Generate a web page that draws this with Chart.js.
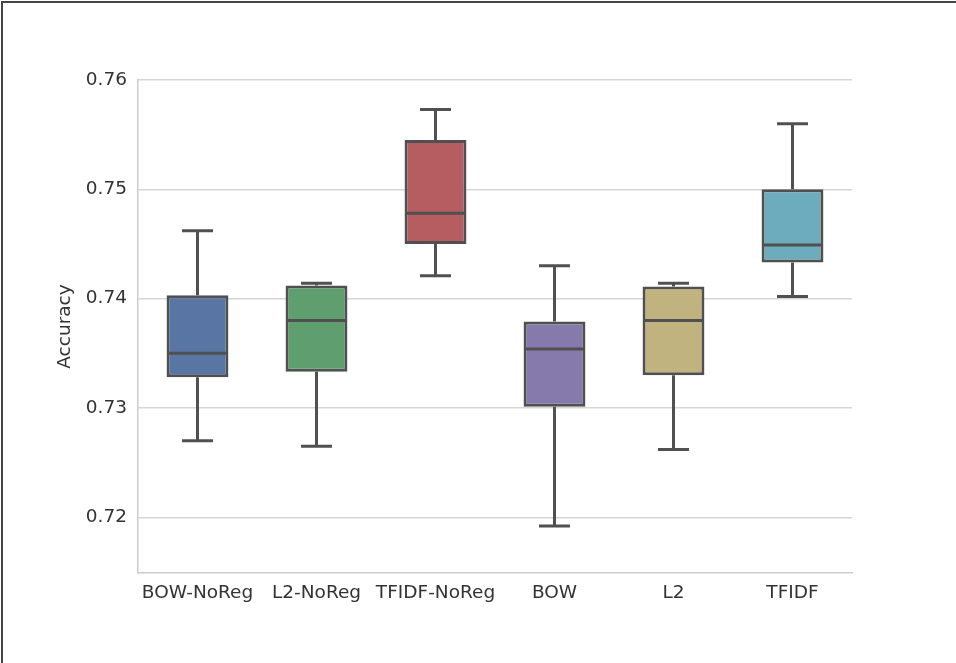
<!DOCTYPE html>
<html>
<head>
<meta charset="utf-8">
<script src="https://cdn.jsdelivr.net/npm/chart.js@4"></script>
<style>
  body { margin: 0; background: #fff; }
  #wrap { position: relative; width: 956px; height: 663px; }
  #frame { position: absolute; left: 1px; top: 1px; right: 0; bottom: 0;
           border-left: 2px solid #444; border-top: 2px solid #444; pointer-events: none; }
  canvas { position: absolute; left: 0; top: 0; }
</style>
</head>
<body>
<div id="wrap">
  <canvas id="boxChart" width="956" height="663"></canvas>
  <div id="frame"></div>
</div>
<script>
const labels = ['BOW-NoReg', 'L2-NoReg', 'TFIDF-NoReg', 'BOW', 'L2', 'TFIDF'];
const whiskerLow  = [0.7270, 0.7265, 0.7421, 0.7192, 0.7262, 0.7402];
const q1          = [0.7328, 0.7333, 0.7450, 0.7301, 0.7330, 0.7433];
const median      = [0.7350, 0.7380, 0.7478, 0.7354, 0.7380, 0.7449];
const q3          = [0.7403, 0.7412, 0.7545, 0.7379, 0.7411, 0.7500];
const whiskerHigh = [0.7462, 0.7414, 0.7573, 0.7430, 0.7414, 0.7560];
const boxColors = ['#5875a4', '#5f9e6e', '#b55d60', '#857aab', '#c1b37f', '#6dacbd'];
const lineColor = '#505050';

// whiskers + caps behind the boxes, medians on top
const boxExtras = {
    id: 'boxExtras',
    beforeDatasetsDraw(chart) {
        const { ctx, scales: { x, y } } = chart;
        const bars = chart.getDatasetMeta(0).data;
        ctx.save();
        ctx.strokeStyle = lineColor;
        ctx.lineWidth = 3;
        labels.forEach((l, i) => {
            const cx = x.getPixelForValue(i);
            const capHalf = bars[i].width / 4;
            ctx.beginPath();
            ctx.moveTo(cx, y.getPixelForValue(q3[i]));
            ctx.lineTo(cx, y.getPixelForValue(whiskerHigh[i]));
            ctx.moveTo(cx, y.getPixelForValue(q1[i]));
            ctx.lineTo(cx, y.getPixelForValue(whiskerLow[i]));
            ctx.moveTo(cx - capHalf, y.getPixelForValue(whiskerHigh[i]));
            ctx.lineTo(cx + capHalf, y.getPixelForValue(whiskerHigh[i]));
            ctx.moveTo(cx - capHalf, y.getPixelForValue(whiskerLow[i]));
            ctx.lineTo(cx + capHalf, y.getPixelForValue(whiskerLow[i]));
            ctx.stroke();
        });
        ctx.restore();
    },
    afterDatasetsDraw(chart) {
        const { ctx, scales: { x, y } } = chart;
        const bars = chart.getDatasetMeta(0).data;
        ctx.save();
        ctx.strokeStyle = lineColor;
        ctx.lineWidth = 3;
        labels.forEach((l, i) => {
            const cx = x.getPixelForValue(i);
            const half = bars[i].width / 2;
            const my = y.getPixelForValue(median[i]);
            ctx.beginPath();
            ctx.moveTo(cx - half + 1, my);
            ctx.lineTo(cx + half - 1, my);
            ctx.stroke();
        });
        ctx.restore();
    }
};

new Chart(document.getElementById('boxChart'), {
    type: 'bar',
    data: {
        labels: labels,
        datasets: [{
            label: 'Accuracy',
            data: labels.map((l, i) => [q1[i], q3[i]]),
            backgroundColor: boxColors,
            borderColor: lineColor,
            borderWidth: 3,
            borderSkipped: false,
            categoryPercentage: 1,
            barPercentage: 0.52
        }]
    },
    options: {
        responsive: false,
        animation: false,
        layout: { padding: { left: 50, right: 104, top: 80, bottom: 0 } },
        plugins: {
            legend: { display: false },
            tooltip: { enabled: false }
        },
        scales: {
            x: {
                grid: { display: false, drawTicks: false },
                border: { display: true, color: '#cccccc', width: 1.5 },
                ticks: {
                    padding: 9,
                    color: '#333333',
                    font: { family: 'DejaVu Sans', size: 18.5 },
                    maxRotation: 0,
                    autoSkip: false
                },
                afterFit(scale) { scale.height = 90; }
            },
            y: {
                min: 0.7149,
                max: 0.76,
                grid: { color: '#d6d6d6', lineWidth: 1.5, drawTicks: false },
                border: { display: true, color: '#cccccc', width: 1.5 },
                ticks: {
                    stepSize: 0.01,
                    includeBounds: false,
                    padding: 11,
                    color: '#333333',
                    font: { family: 'DejaVu Sans', size: 18.5 },
                    callback: v => v.toFixed(2)
                },
                title: {
                    display: true,
                    text: 'Accuracy',
                    color: '#333333',
                    font: { family: 'DejaVu Sans', size: 18.5 },
                    padding: { top: 4, bottom: 0 }
                },
                afterFit(scale) { scale.width = 88; }
            }
        }
    },
    plugins: [boxExtras]
});
</script>
</body>
</html>
